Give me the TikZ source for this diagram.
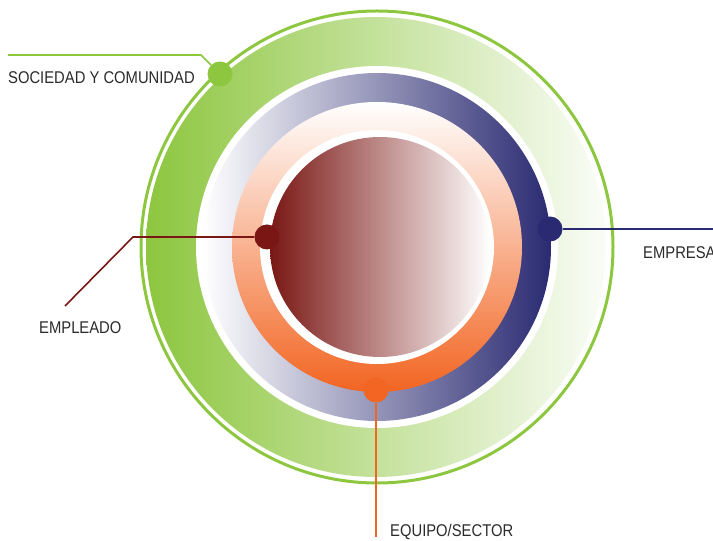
\documentclass[tikz,border=0pt]{standalone}
\usepackage{fontspec}
\setmainfont[FakeStretch=0.87]{Liberation Sans}
\usepackage{tikz}
\usetikzlibrary{calc}
\definecolor{socgreen}{HTML}{8DC63F}
\definecolor{empred}{HTML}{7A1714}
\definecolor{empmid}{HTML}{C6967E}
\definecolor{firmnavy}{HTML}{2A2A72}
\definecolor{teamorange}{HTML}{F26522}
\definecolor{labelgray}{HTML}{2B2B2B}

\tikzset{
  dot/.style={circle, inner sep=0pt, minimum size=25pt},
  link/.style={line width=1.6pt},
  lbl/.style={anchor=base west, inner sep=0pt, text=labelgray, font=\fontsize{17}{20}\selectfont}
}

\begin{document}
\begin{tikzpicture}[x=1pt, y=1pt]
  \useasboundingbox (0,0) rectangle (713,541);
  \coordinate (c) at (377,294);

  % rings, outside in
  \draw[socgreen, line width=3pt] (c) circle (236);
  \shade[left color=socgreen, middle color=socgreen!50!white, right color=socgreen!4!white] (376,294) circle (230);
  \fill[white] (c) circle (181);
  \shade[left color=white, right color=firmnavy] (c) circle (174);
  \shade[top color=white, middle color=teamorange!30!white, bottom color=teamorange] (c) circle (145);
  \fill[white] (c) circle (117);
  \shade[left color=empred, middle color=empmid, right color=white] (380,294) circle (110);

  % dots
  \foreach \nm/\col/\x/\y in {soc/socgreen/220/467, emp/empred/267/304, firm/firmnavy/550/312, team/teamorange/376/151}
    \node[dot, fill=\col] (\nm dot) at (\x,\y) {};

  % leader lines
  \coordinate (soccorner) at (201,486);
  \coordinate (socend) at (8,486);
  \coordinate (empcorner) at (133,304);
  \coordinate (empend) at (65,235);
  \coordinate (firmend) at (720,312);
  \coordinate (teamend) at (376,4);
  \draw[link, socgreen] (socdot) -- (soccorner) -- (socend);
  \draw[link, empred] (empdot) -- (empcorner) -- (empend);
  \draw[link, firmnavy] (firmdot) -- (firmend);
  \draw[link, teamorange] (teamdot) -- (teamend);

  % labels
  \foreach \nm/\txt/\x/\y in {soc/SOCIEDAD Y COMUNIDAD/8/457, emp/EMPLEADO/39/207, firm/EMPRESA/643/282, team/EQUIPO\slash SECTOR/390/4}
    \node[lbl] (\nm lbl) at (\x,\y) {\txt};
\end{tikzpicture}
\end{document}
